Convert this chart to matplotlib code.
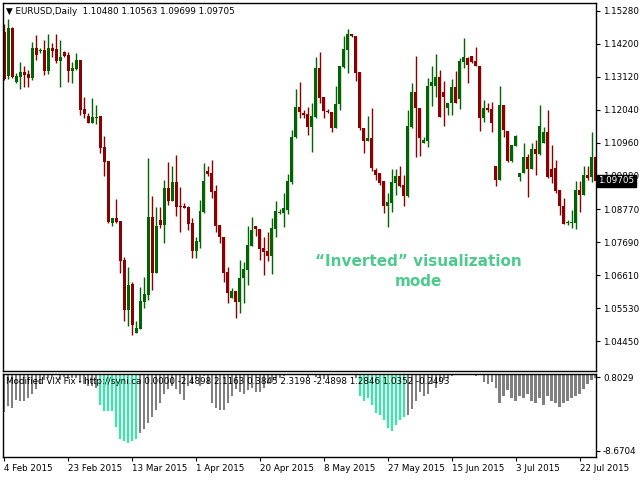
import numpy as np
import matplotlib
matplotlib.use("Agg")
import matplotlib.pyplot as plt

# --- EURUSD daily candles, 4 Feb 2015 .. 23 Jul 2015 ---
OPEN = [1.1459, 1.1315, 1.1472, 1.1295, 1.1311, 1.1328, 1.1321, 1.1308, 1.1407, 1.1397,
        1.1400, 1.1331, 1.1407, 1.1403, 1.1364, 1.1393, 1.1384, 1.1331, 1.1338, 1.1367,
        1.1206, 1.1184, 1.1161, 1.1177, 1.1184, 1.1082, 1.1036, 1.0833, 1.0849, 1.0839,
        1.0711, 1.0547, 1.0632, 1.0472, 1.0485, 1.0573, 1.0596, 1.0852, 1.0668, 1.0842,
        1.0826, 1.0947, 1.0905, 1.0967, 1.0888, 1.0888, 1.0885, 1.0833, 1.0741, 1.0770,
        1.0869, 1.1003, 1.0997, 1.0937, 1.0826, 1.0787, 1.0672, 1.0587, 1.0609, 1.0573,
        1.0652, 1.0678, 1.0757, 1.0823, 1.0813, 1.0751, 1.0741, 1.0724, 1.0813, 1.0865,
        1.0865, 1.0875, 1.0967, 1.1115, 1.1213, 1.1193, 1.1190, 1.1147, 1.1180, 1.1341,
        1.1246, 1.1200, 1.1197, 1.1144, 1.1223, 1.1344, 1.1400, 1.1452, 1.1446, 1.1328,
        1.1144, 1.1102, 1.1111, 1.1006, 1.0997, 1.0970, 1.0888, 1.0898, 1.0964, 1.0987,
        1.0957, 1.0921, 1.1147, 1.1262, 1.1210, 1.1095, 1.1102, 1.1282, 1.1282, 1.1311,
        1.1262, 1.1210, 1.1226, 1.1279, 1.1239, 1.1361, 1.1374, 1.1380, 1.1364, 1.1348,
        1.1177, 1.1210, 1.1206, 1.1020, 1.0974, 1.1220, 1.1134, 1.1036, 1.1085, 1.0983,
        1.0997, 1.1049, 1.1010, 1.1075, 1.1059, 1.1095, 1.1131, 1.1010, 1.1013, 1.0941,
        1.0888, 1.0833, 1.0833, 1.0833, 1.0941, 1.0924, 1.0990, 1.0983, 1.1048]
HIGH = [1.1485, 1.1502, 1.1475, 1.1325, 1.1361, 1.1348, 1.1334, 1.1426, 1.1449, 1.1407,
        1.1433, 1.1452, 1.1423, 1.1452, 1.1433, 1.1397, 1.1393, 1.1361, 1.1390, 1.1367,
        1.1246, 1.1193, 1.1243, 1.1220, 1.1184, 1.1118, 1.1036, 1.0849, 1.0911, 1.0839,
        1.0721, 1.0688, 1.0639, 1.0511, 1.0623, 1.0655, 1.1046, 1.0921, 1.0885, 1.0885,
        1.0974, 1.1033, 1.1020, 1.1056, 1.0951, 1.0898, 1.0888, 1.0849, 1.0787, 1.0908,
        1.1029, 1.1020, 1.1039, 1.0957, 1.0826, 1.0787, 1.0688, 1.0619, 1.0609, 1.0711,
        1.0705, 1.0823, 1.0852, 1.0823, 1.0813, 1.0787, 1.0803, 1.0849, 1.0905, 1.0879,
        1.0931, 1.0993, 1.1138, 1.1272, 1.1295, 1.1203, 1.1213, 1.1226, 1.1377, 1.1393,
        1.1246, 1.1206, 1.1197, 1.1282, 1.1348, 1.1446, 1.1469, 1.1452, 1.1446, 1.1328,
        1.1144, 1.1184, 1.1210, 1.1013, 1.0997, 1.0970, 1.0931, 1.1010, 1.1010, 1.1020,
        1.0990, 1.1203, 1.1292, 1.1380, 1.1210, 1.1115, 1.1308, 1.1348, 1.1387, 1.1334,
        1.1298, 1.1226, 1.1305, 1.1331, 1.1374, 1.1439, 1.1377, 1.1380, 1.1410, 1.1348,
        1.1236, 1.1226, 1.1229, 1.1020, 1.1282, 1.1220, 1.1134, 1.1088, 1.1121, 1.0997,
        1.1095, 1.1059, 1.1095, 1.1105, 1.1220, 1.1147, 1.1203, 1.1088, 1.1039, 1.0941,
        1.0915, 1.0842, 1.0875, 1.0970, 1.0970, 1.1020, 1.1020, 1.1131, 1.1056]
LOW = [1.1302, 1.1305, 1.1308, 1.1292, 1.1272, 1.1279, 1.1279, 1.1302, 1.1367, 1.1390,
       1.1318, 1.1321, 1.1377, 1.1357, 1.1279, 1.1377, 1.1295, 1.1292, 1.1334, 1.1187,
       1.1177, 1.1161, 1.1161, 1.1157, 1.1062, 1.0987, 1.0833, 1.0823, 1.0833, 1.0668,
       1.0511, 1.0495, 1.0465, 1.0472, 1.0485, 1.0554, 1.0580, 1.0613, 1.0668, 1.0816,
       1.0767, 1.0892, 1.0905, 1.0856, 1.0803, 1.0882, 1.0810, 1.0718, 1.0718, 1.0751,
       1.0865, 1.0987, 1.0915, 1.0803, 1.0767, 1.0639, 1.0570, 1.0587, 1.0521, 1.0537,
       1.0570, 1.0629, 1.0757, 1.0790, 1.0711, 1.0662, 1.0708, 1.0665, 1.0787, 1.0862,
       1.0819, 1.0862, 1.0960, 1.1111, 1.1177, 1.1177, 1.1121, 1.1065, 1.1177, 1.1226,
       1.1177, 1.1193, 1.1131, 1.1144, 1.1203, 1.1341, 1.1325, 1.1443, 1.1298, 1.1138,
       1.1062, 1.1102, 1.1003, 1.0974, 1.0957, 1.0865, 1.0819, 1.0869, 1.0924, 1.0951,
       1.0888, 1.0918, 1.1144, 1.1049, 1.1052, 1.1095, 1.1082, 1.1216, 1.1246, 1.1180,
       1.1151, 1.1187, 1.1187, 1.1226, 1.1206, 1.1341, 1.1292, 1.1357, 1.1348, 1.1134,
       1.1164, 1.1197, 1.1131, 1.0954, 1.0974, 1.1115, 1.1033, 1.1033, 1.1085, 1.0970,
       1.0997, 1.0918, 1.1010, 1.0990, 1.1056, 1.1095, 1.0980, 1.0964, 1.0931, 1.0859,
       1.0829, 1.0826, 1.0816, 1.0813, 1.0869, 1.0924, 1.0974, 1.0967, 1.0970]
CLOSE = [1.1305, 1.1472, 1.1311, 1.1315, 1.1328, 1.1318, 1.1308, 1.1407, 1.1384, 1.1400,
         1.1331, 1.1407, 1.1397, 1.1364, 1.1377, 1.1380, 1.1331, 1.1341, 1.1367, 1.1203,
         1.1190, 1.1161, 1.1180, 1.1180, 1.1079, 1.1033, 1.0836, 1.0849, 1.0836, 1.0708,
         1.0547, 1.0629, 1.0498, 1.0488, 1.0577, 1.0600, 1.0852, 1.0668, 1.0823, 1.0826,
         1.0947, 1.0905, 1.0967, 1.0885, 1.0885, 1.0882, 1.0829, 1.0741, 1.0774, 1.0872,
         1.0970, 1.0993, 1.0934, 1.0823, 1.0787, 1.0668, 1.0603, 1.0609, 1.0573, 1.0652,
         1.0682, 1.0760, 1.0810, 1.0813, 1.0747, 1.0737, 1.0724, 1.0816, 1.0872, 1.0869,
         1.0882, 1.0970, 1.1115, 1.1213, 1.1197, 1.1187, 1.1147, 1.1184, 1.1341, 1.1243,
         1.1200, 1.1197, 1.1144, 1.1223, 1.1348, 1.1403, 1.1452, 1.1446, 1.1325, 1.1144,
         1.1102, 1.1111, 1.1013, 1.0990, 1.0964, 1.0888, 1.0901, 1.0967, 1.0987, 1.0954,
         1.0921, 1.1151, 1.1262, 1.1210, 1.1111, 1.1105, 1.1282, 1.1295, 1.1311, 1.1180,
         1.1246, 1.1226, 1.1279, 1.1226, 1.1364, 1.1377, 1.1351, 1.1361, 1.1348, 1.1177,
         1.1210, 1.1203, 1.1161, 1.0974, 1.1220, 1.1138, 1.1036, 1.1088, 1.1118, 1.0997,
         1.1049, 1.1010, 1.1075, 1.1059, 1.1151, 1.1131, 1.0983, 1.0983, 1.0937, 1.0888,
         1.0829, 1.0836, 1.0836, 1.0941, 1.0924, 1.0990, 1.0980, 1.1048, 1.09705]

# --- Modified VIX Fix (inverted) ---
VIX = [-4.28, -3.58, -3.81, -2.89, -3.01, -3.01, -2.77, -2.31, -1.73, -1.16,
       -0.69, -0.46, -0.35, -0.12, -0.69, -0.35, -0.58, -0.46, -0.46, -1.04,
       -1.16, -1.39, -1.39, -1.62, -3.47, -4.16, -4.16, -4.16, -6.01, -7.40,
       -7.63, -7.86, -7.63, -7.40, -6.70, -6.24, -5.55, -4.86, -4.05, -3.24,
       -2.31, -1.73, -1.39, -1.73, -2.31, -2.89, -1.39, -1.16, -0.58, -1.39,
       -0.23, -1.16, -3.24, -3.81, -4.05, -4.05, -3.24, -2.54, -1.73, -2.08,
       -2.31, -1.85, -1.62, -2.08, -2.08, -1.62, -1.16, -0.92, -0.69, -0.46,
       -0.23, 0.0, 0.0, 0.0, 0.0, -0.12, -0.35, 0.0, -0.35, -0.46,
       -0.58, -0.35, 0.0, -0.12, 0.0, 0.0, 0.0, 0.0, -0.46,
       -2.54, -3.01, -2.77, -3.47, -4.39, -4.62, -5.20, -6.13, -6.47, -5.78, -5.20, -4.86,
       -4.62, -3.93, -3.01, -2.08, -2.54, -2.31, -1.16, -1.62, -0.92, -0.69,
       -0.46, -0.23, -0.12, 0.0, 0.0, 0.0, 0.0, -0.23, -0.12,
       -0.92, -1.16, -0.92, -1.62, -3.24, -2.54, -1.85, -2.77, -3.01, -2.54,
       -2.77, -2.31, -3.01, -3.24, -2.77, -3.47, -2.54, -3.01, -3.24, -3.70,
       -3.24, -3.01, -2.77, -2.54, -2.31, -1.73, -1.16, -0.69, -0.46]
SPIKE = list(range(24, 34)) + list(range(89, 101))

DATE_LABELS = ["4 Feb 2015", "23 Feb 2015", "13 Mar 2015", "1 Apr 2015", "20 Apr 2015",
               "8 May 2015", "27 May 2015", "15 Jun 2015", "3 Jul 2015", "22 Jul 2015"]
PRICE_TICKS = [1.15280, 1.14200, 1.13120, 1.12040, 1.10960, 1.09880,
               1.08770, 1.07690, 1.06610, 1.05530, 1.04450]

UP = "#006400"
DOWN = "#8b0000"
FS = 6.3

fig = plt.figure(figsize=(6.4, 4.8), dpi=100)
ax = fig.add_axes([3 / 640, 1 - 371 / 480, 593 / 640, 368 / 480])
ax2 = fig.add_axes([3 / 640, 1 - 457 / 480, 593 / 640, 83 / 480])

o = np.array(OPEN); h = np.array(HIGH); l = np.array(LOW); c = np.array(CLOSE)
x = np.arange(len(o))
cols = np.where(c >= o, UP, DOWN)
ax.vlines(x, l, h, colors=cols, linewidth=1)
body = np.maximum(np.abs(c - o), 0.0003)
ax.bar(x, body, bottom=np.minimum(o, c), width=0.75, color=cols, linewidth=0)

for a in (ax, ax2):
    a.set_xlim(-0.3, 148.1)
    for s in a.spines.values():
        s.set_linewidth(1)
    a.yaxis.tick_right()
    a.tick_params(axis="y", direction="out", length=3, labelsize=FS, pad=2)

ax.set_ylim(1.0347, 1.1554)
ax.set_yticks(PRICE_TICKS)
ax.set_yticklabels([f"{t:.5f}" for t in PRICE_TICKS])
ax.set_xticks([])
ax.text(0.005, 0.99, "\u25bc EURUSD,Daily  1.10480 1.10563 1.09699 1.09705",
        transform=ax.transAxes, fontsize=FS, va="top", ha="left")
ax.text(1.004, 1.09705, "1.09705", transform=ax.get_yaxis_transform(), fontsize=FS,
        color="white", va="center", ha="left",
        bbox=dict(boxstyle="square,pad=0.15", fc="black", ec="black"))
ax.text(0.70, 0.27, "\u201cInverted\u201d visualization\nmode", transform=ax.transAxes,
        fontsize=11, fontweight="bold", color="#4ccb8c", ha="center", va="center",
        linespacing=1.4)

vcols = ["#1ef5a0" if i in SPIKE else "#808080" for i in range(len(VIX))]
ax2.bar(x, VIX, width=0.6, color=vcols, linewidth=0)
ax2.set_ylim(-9.4, 0.0)
ax2.set_yticks([-0.35, -8.6704])
ax2.set_yticklabels(["0.8029", "-8.6704"])
ax2.text(0.005, 0.96, "Modified VIX Fix - http://syni.ca 0.0000 -2.4898 2.1163 0.3845 "
         "2.3198 -2.4898 1.2846 1.0352 -0.2493", transform=ax2.transAxes,
         fontsize=FS, va="top", ha="left")
ax2.set_xticks(np.arange(0, 149, 16))
ax2.set_xticklabels(DATE_LABELS, fontsize=FS, ha="left")
ax2.tick_params(axis="x", direction="out", length=3, pad=2)

fig.savefig("out.png", dpi=100)
